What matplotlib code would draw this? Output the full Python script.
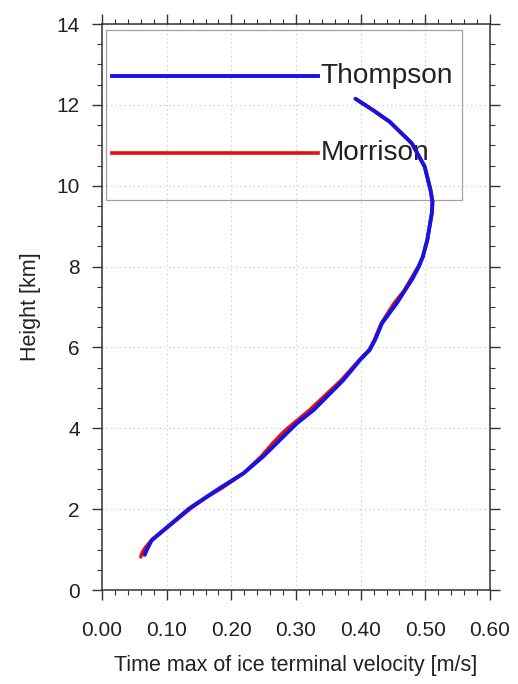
import matplotlib
matplotlib.use("Agg")
import matplotlib.pyplot as plt
from matplotlib.patches import Rectangle
from matplotlib.ticker import MultipleLocator

plt.rcParams.update({
    "font.family": ["Liberation Sans", "DejaVu Sans"],
    "font.size": 15,
})

TXT = "#222222"

# ---- data ----
thompson_h = [0.87, 0.95, 1.05, 1.24, 1.6, 2.02, 2.52, 2.89, 3.30, 3.63,
              4.12, 4.45, 5.19, 5.69, 5.94, 6.18, 6.6, 7.1, 7.7, 8.0, 8.24,
              8.66, 9.32, 9.6, 9.89, 10.47, 11.05, 11.58, 11.87, 12.15]
thompson_v = [0.066, 0.068, 0.071, 0.077, 0.104, 0.135, 0.182, 0.219, 0.249,
              0.270, 0.301, 0.327, 0.373, 0.399, 0.414, 0.422, 0.433, 0.456,
              0.480, 0.490, 0.496, 0.503, 0.510, 0.511, 0.508, 0.499, 0.479,
              0.445, 0.419, 0.392]

morrison_h = [0.82, 0.92, 1.05, 1.2, 1.6, 2.02, 2.3, 2.52, 2.89, 3.30, 3.63,
              3.9, 4.12, 4.45, 5.19, 5.69, 5.94, 6.18, 6.6, 7.1, 7.4, 7.7,
              8.0, 8.24, 8.66, 9.32, 9.6, 9.89, 10.47, 11.05, 11.58, 11.87,
              12.15]
morrison_v = [0.060, 0.062, 0.067, 0.075, 0.105, 0.137, 0.162, 0.185, 0.219,
              0.246, 0.264, 0.280, 0.296, 0.321, 0.370, 0.398, 0.413, 0.421,
              0.432, 0.452, 0.467, 0.478, 0.489, 0.496, 0.503, 0.510, 0.511,
              0.508, 0.499, 0.479, 0.445, 0.419, 0.392]

fig = plt.figure(figsize=(5.18, 6.84), dpi=100)
ax = fig.add_axes([0.197, 0.1374, 0.749, 0.8275])

ax.plot(morrison_v, morrison_h, color="#e41010", lw=2.6, zorder=4,
        solid_capstyle="round", solid_joinstyle="round")
ax.plot(thompson_v, thompson_h, color="#1414e6", lw=2.8, zorder=5,
        solid_capstyle="round", solid_joinstyle="round")

ax.set_xlim(0, 0.6)
ax.set_ylim(0, 14)
ax.xaxis.set_major_locator(MultipleLocator(0.1))
ax.xaxis.set_minor_locator(MultipleLocator(0.02))
ax.yaxis.set_major_locator(MultipleLocator(2))
ax.yaxis.set_minor_locator(MultipleLocator(0.5))
ax.set_xticklabels([f"{v:.2f}" for v in ax.get_xticks()])

ax.grid(True, which="major", color="#c4c4c4", lw=0.8,
        linestyle=(0, (1, 3)), zorder=0)

for s in ax.spines.values():
    s.set_color("#333333")
    s.set_linewidth(1.1)

ax.tick_params(which="both", direction="out", top=True, right=True,
               colors="#333333", labelcolor=TXT)
ax.tick_params(which="major", length=7, width=1.0, labelsize=15)
ax.tick_params(axis="x", which="major", pad=15)
ax.tick_params(axis="y", which="major", pad=9)
ax.tick_params(which="minor", length=3.5, width=0.8)

ax.set_xlabel("Time max of ice terminal velocity [m/s]", fontsize=15.5,
              color=TXT, labelpad=11)
ax.set_ylabel("Height [km]", fontsize=15.5, color=TXT, labelpad=11)

# ---- legend box (NCL style) ----
ax.add_patch(Rectangle((0.0103, 0.689), 0.918, 0.300,
                       transform=ax.transAxes, facecolor="none",
                       edgecolor="#a0a0a0", lw=0.9, zorder=2))
ax.plot([0.026, 0.557], [0.908, 0.908], transform=ax.transAxes,
        color="#1414e6", lw=2.8, zorder=3)
ax.plot([0.026, 0.557], [0.772, 0.772], transform=ax.transAxes,
        color="#e41010", lw=2.6, zorder=3)
ax.text(0.563, 0.908, "Thompson", transform=ax.transAxes, fontsize=20.2,
        va="center", ha="left", color=TXT, zorder=3)
ax.text(0.563, 0.772, "Morrison", transform=ax.transAxes, fontsize=20.2,
        va="center", ha="left", color=TXT, zorder=3)

fig.savefig("out.png", dpi=100)
